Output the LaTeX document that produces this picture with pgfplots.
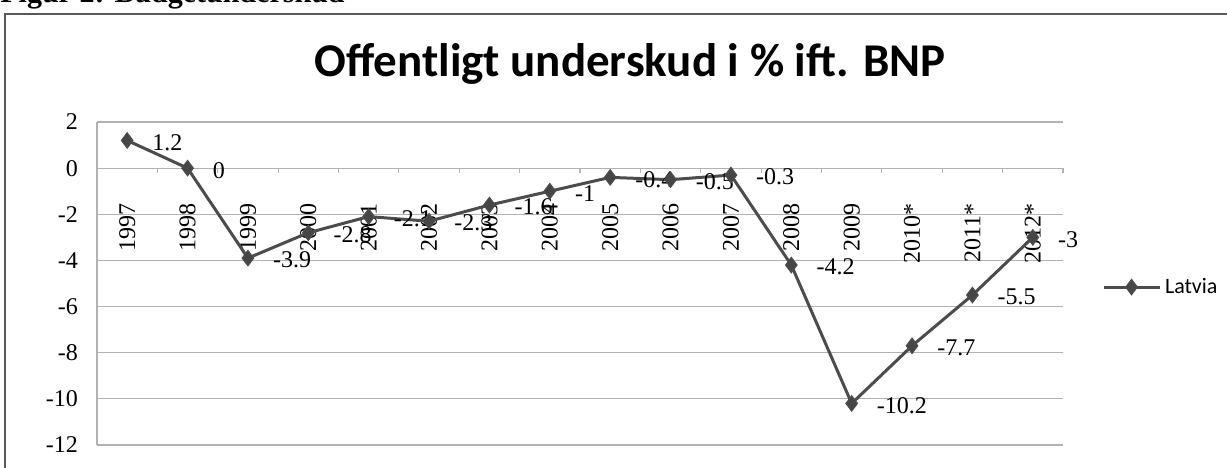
\documentclass[border=0pt]{standalone}
\usepackage{fontspec}
\setmainfont{Liberation Serif}
\newfontfamily\carlito{Carlito}
\usepackage{pgfplots}
\pgfplotsset{compat=1.18}
\usepackage{pgfplotstable}

\pgfplotstableread{
x y lab
0 1.2 1.2
1 0 0
2 -3.9 -3.9
3 -2.8 -2.8
4 -2.1 -2.1
5 -2.3 -2.3
6 -1.6 -1.6
7 -1 -1
8 -0.4 -0.4
9 -0.5 -0.5
10 -0.3 -0.3
11 -4.2 -4.2
12 -10.2 -10.2
13 -7.7 -7.7
14 -5.5 -5.5
15 -3 -3
}\latvia

\begin{document}
\begin{tikzpicture}
\useasboundingbox (0pt,0pt) rectangle (613.5pt,233.5pt);
\node[anchor=base west, inner sep=0pt] at (0pt,232pt) {\fontsize{15}{18}\selectfont\bfseries Figur 2: Budgetunderskud};
\draw[black!65, line width=0.8pt] (2.5pt,-2pt) -- (2.5pt,226.5pt) -- (616pt,226.5pt);
\node[anchor=base, inner sep=0pt] at (315pt,195pt) {\carlito\bfseries\fontsize{23.5}{28}\selectfont Offentligt underskud i \% ift. BNP};
\begin{axis}[
  at={(48.5pt,11pt)}, anchor=south west,
  scale only axis, width=483pt, height=161.5pt,
  xmin=-0.5, xmax=15.5, ymin=-12, ymax=2,
  axis x line*=middle, axis y line*=left,
  axis line style={gray!60, line width=0.6pt},
  xtick={0,...,15},
  xticklabels={1997,1998,1999,2000,2001,2002,2003,2004,2005,2006,2007,2008,2009,2010*,2011*,2012*},
  major x tick style={draw=none},
  minor xtick={-0.5,0.5,...,15.5},
  minor x tick style={gray!60, line width=0.6pt},
  minor tick length=2.5pt,
  xtick align=outside,
  xticklabel style={rotate=90, anchor=east, font=\fontsize{12}{14}\selectfont},
  xticklabel shift=10pt,
  ytick={2,0,-2,-4,-6,-8,-10,-12},
  yticklabels={2,0,-2,-4,-6,-8,-10,-12},
  ytick style={draw=none},
  yticklabel style={anchor=east, xshift=-6pt, font=\fontsize{12}{14}\selectfont},
  ymajorgrids,
  major grid style={gray!60, line width=0.6pt},
  clip=false,
  legend style={at={(1.040,0.489)}, anchor=west, draw=none, fill=none, inner sep=0pt,
    font=\carlito\fontsize{11}{13}\selectfont},
  legend image code/.code={\draw[mark repeat=2,mark phase=2,#1] plot coordinates {(0pt,0pt) (14pt,0pt) (28pt,0pt)};},
]
\addplot[black!70, line width=1.5pt, mark=diamond*, mark size=3.8pt,
  mark options={fill=gray!55!black, draw=black!70, line width=0.6pt},
  point meta=explicit symbolic,
  nodes near coords,
  nodes near coords style={anchor=west, xshift=9pt, yshift=-1pt, black, font=\fontsize{12}{14}\selectfont}]
  table[x=x, y=y, meta=lab] {\latvia};
\addlegendentry{Latvia}
\end{axis}
\end{tikzpicture}
\end{document}
